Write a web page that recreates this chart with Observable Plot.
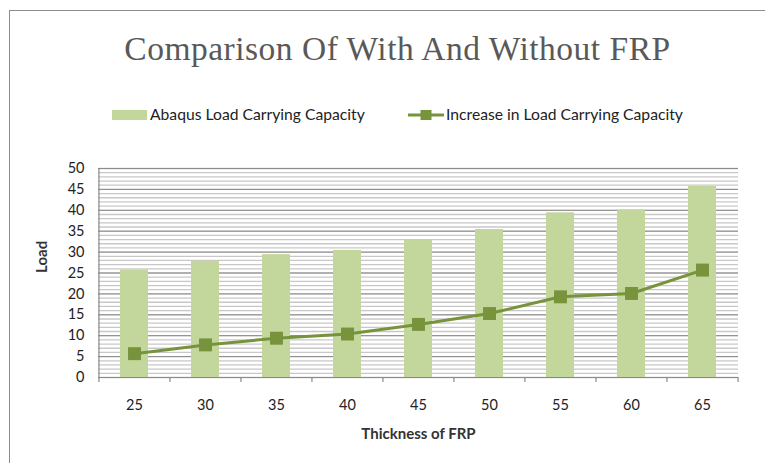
<!DOCTYPE html>
<html><head><meta charset="utf-8">
<script src="https://cdn.jsdelivr.net/npm/d3@7"></script>
<script src="https://cdn.jsdelivr.net/npm/@observablehq/plot@0.6"></script>
<style>
body{margin:0;background:#fff;}
#wrap{position:relative;width:765px;height:463px;overflow:hidden;background:#fff;}
#frame{position:absolute;left:9px;top:10px;width:820px;height:520px;border:1.5px solid #8c8c8c;box-sizing:border-box;}
#title{position:absolute;top:30px;left:15px;width:765px;text-align:center;font-family:"Liberation Serif",serif;font-size:33.5px;color:#595959;letter-spacing:0.5px;white-space:nowrap;}
.leg{position:absolute;top:104px;font-family:Lato,sans-serif;font-size:15.7px;color:#222;white-space:nowrap;line-height:20px;}
#chart{position:absolute;top:150px;left:0;}
</style></head>
<body>
<div id="wrap">
  <div id="frame"></div>
  <div id="title">Comparison Of With And Without FRP</div>
  <div class="leg" style="left:112px;"><span style="display:inline-block;width:35px;height:10px;background:#c3d69b;vertical-align:middle;margin-right:3px;position:relative;top:-1px;"></span>Abaqus Load Carrying Capacity</div>
  <div class="leg" style="left:408px;"><svg width="36" height="14" style="vertical-align:middle;margin-right:2px;position:relative;top:-1px;"><line x1="0" x2="36" y1="7" y2="7" stroke="#77933c" stroke-width="3"/><rect x="12.5" y="2" width="11" height="10" fill="#77933c"/></svg>Increase in Load Carrying Capacity</div>
  <div id="chart"></div>
</div>
<script>
const thickness = [25, 30, 35, 40, 45, 50, 55, 60, 65];
const abaqusLoad = [25.7, 27.8, 29.4, 30.4, 32.8, 35.4, 39.4, 40.1, 45.7];
const increaseLoad = [5.7, 7.8, 9.4, 10.4, 12.7, 15.3, 19.3, 20.1, 25.7];
const yTicks = [0, 5, 10, 15, 20, 25, 30, 35, 40, 45, 50];
const yMinor = d3.range(0, 50.5, 1);

const rows = thickness.map((t, i) => ({t, bar: abaqusLoad[i], inc: increaseLoad[i]}));

const W = 765, H = 313, ML = 98, MR = 27, MT = 18, MB = 86;
const n = thickness.length;
const step = (W - ML - MR) / (n - 0.6 + 2 * 0.3);

const chart = Plot.plot({
  width: W, height: H,
  marginLeft: ML, marginRight: MR, marginTop: MT, marginBottom: MB,
  style: {fontFamily: "Lato, sans-serif", fontSize: "14.5px", color: "#222", background: "transparent"},
  x: {type: "band", domain: thickness, paddingInner: 0.6, paddingOuter: 0.3, label: null},
  y: {domain: [0, 50], label: null},
  marks: [
    Plot.gridY(yMinor, {stroke: "#c8c8c8", strokeOpacity: 1, strokeWidth: 1.3}),
    Plot.gridY(yTicks, {stroke: "#8a8a8a", strokeOpacity: 1, strokeWidth: 1}),
    Plot.barY(rows, {x: "t", y: "bar", fill: "#c3d69b"}),
    Plot.ruleY([0], {stroke: "#8a8a8a", strokeWidth: 1.2}),
    Plot.ruleX([thickness[0]], {x: d => d, y1: 0, y2: 50, dx: -step / 2, stroke: "#8a8a8a", strokeWidth: 1.2}),
    Plot.ruleX(thickness, {x: d => d, y1: 0, y2: 0, dx: -step / 2, insetBottom: -5, stroke: "#8a8a8a", strokeWidth: 1.2}),
    Plot.ruleX([thickness[n - 1]], {x: d => d, y1: 0, y2: 0, dx: step / 2, insetBottom: -5, stroke: "#8a8a8a", strokeWidth: 1.2}),
    Plot.line(rows, {x: "t", y: "inc", stroke: "#77933c", strokeWidth: 3}),
    Plot.dot(rows, {x: "t", y: "inc", symbol: "square", r: 7.3, fill: "#77933c", stroke: "none"}),
    Plot.axisY(yTicks, {tickSize: 0, tickPadding: 14, fontSize: 14.5}),
    Plot.axisX({tickSize: 0, tickPadding: 22, fontSize: 14.5}),
    Plot.text(["Thickness of FRP"], {frameAnchor: "bottom", dy: 61, fontWeight: "bold", fontSize: 15, fill: "#333"}),
    Plot.text(["Load"], {frameAnchor: "left", dx: -56, rotate: -90, fontWeight: "bold", fontSize: 15, fill: "#333"})
  ]
});
document.getElementById("chart").appendChild(chart);
</script>
</body></html>
